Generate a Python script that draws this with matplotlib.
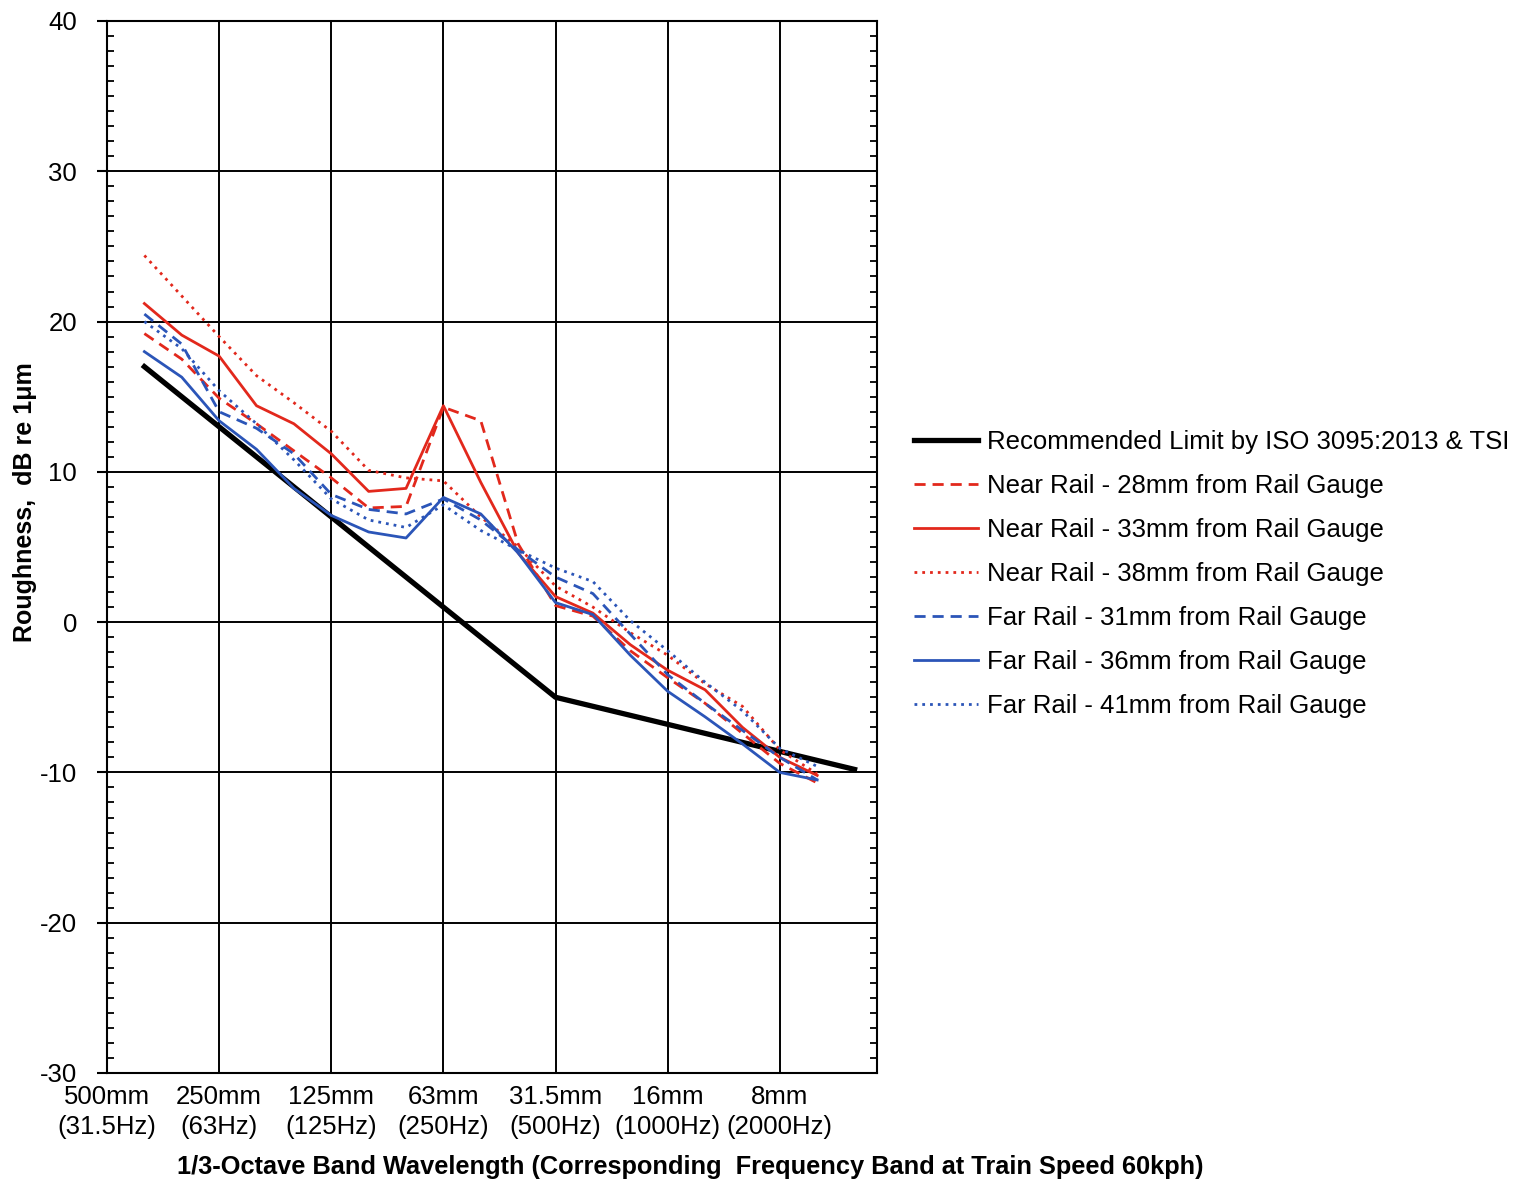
import matplotlib
matplotlib.use("Agg")
import matplotlib.pyplot as plt
from matplotlib.ticker import MultipleLocator

plt.rcParams["font.family"] = ["Liberation Sans", "DejaVu Sans"]
plt.rcParams["axes.unicode_minus"] = False

# 1/3-octave band index (0 = 500mm band)
bands = list(range(1, 20))
limit_bands = list(range(1, 21))

iso_limit = [17.0, 15.0, 13.0, 11.0, 9.0, 7.0, 5.0, 3.0, 1.0, -1.0,
             -3.0, -5.0, -5.6, -6.2, -6.8, -7.4, -8.0, -8.6, -9.2, -9.8]

near_28 = [19.2, 17.5, 14.9, 13.2, 11.4, 9.6, 7.6, 7.7, 14.3, 13.4,
           5.2, 1.1, 0.4, -1.9, -3.7, -5.4, -7.4, -9.4, -10.7]
near_33 = [21.2, 19.1, 17.7, 14.4, 13.2, 11.2, 8.7, 8.9, 14.4, 9.3,
           4.6, 1.7, 0.6, -1.5, -3.2, -4.5, -7.0, -9.0, -10.2]
near_38 = [24.4, 21.7, 19.0, 16.4, 14.6, 12.7, 10.1, 9.6, 9.4, 7.0,
           5.0, 2.4, 1.0, -0.7, -2.2, -4.1, -5.6, -8.5, -10.1]
far_31 = [20.5, 18.5, 14.0, 12.9, 11.2, 8.5, 7.5, 7.2, 8.2, 6.8,
          4.8, 3.0, 1.9, -0.8, -3.5, -5.4, -7.2, -9.0, -10.5]
far_36 = [18.0, 16.3, 13.4, 11.5, 8.9, 7.1, 6.0, 5.6, 8.3, 7.2,
          4.6, 1.3, 0.5, -2.2, -4.6, -6.3, -8.1, -10.0, -10.5]
far_41 = [20.0, 18.2, 15.4, 13.2, 10.8, 8.2, 6.8, 6.3, 7.8, 6.1,
          4.8, 3.6, 2.7, 0.1, -1.9, -4.0, -5.9, -8.4, -9.6]

tick_pos = [0, 3, 6, 9, 12, 15, 18]
tick_labels = ["500mm\n(31.5Hz)", "250mm\n(63Hz)", "125mm\n(125Hz)",
               "63mm\n(250Hz)", "31.5mm\n(500Hz)", "16mm\n(1000Hz)",
               "8mm\n(2000Hz)"]

RED = "#E2281C"
BLUE = "#2B55B8"
FS = 18.5

fig = plt.figure(figsize=(15.13, 11.82), dpi=100)
ax = fig.add_axes([107 / 1513, 109 / 1182, 770 / 1513, 1052 / 1182])

ax.plot(limit_bands, iso_limit, color="black", lw=3.8,
        label="Recommended Limit by ISO 3095:2013 & TSI", zorder=3)
ax.plot(bands, near_28, color=RED, lw=2.0, ls=(0, (4, 2.5)),
        label="Near Rail - 28mm from Rail Gauge", zorder=4)
ax.plot(bands, near_33, color=RED, lw=2.0, ls="-",
        label="Near Rail - 33mm from Rail Gauge", zorder=4)
ax.plot(bands, near_38, color=RED, lw=2.0, ls=(0, (1, 1.8)),
        label="Near Rail - 38mm from Rail Gauge", zorder=4)
ax.plot(bands, far_31, color=BLUE, lw=2.0, ls=(0, (4, 2.5)),
        label="Far Rail - 31mm from Rail Gauge", zorder=4)
ax.plot(bands, far_36, color=BLUE, lw=2.0, ls="-",
        label="Far Rail - 36mm from Rail Gauge", zorder=4)
ax.plot(bands, far_41, color=BLUE, lw=2.0, ls=(0, (1, 1.8)),
        label="Far Rail - 41mm from Rail Gauge", zorder=4)

ax.set_xlim(0, 20.6)
ax.set_ylim(-30, 40)
ax.set_xticks(tick_pos)
ax.set_xticklabels(tick_labels, fontsize=FS, linespacing=1.3)
ax.yaxis.set_major_locator(MultipleLocator(10))
ax.yaxis.set_minor_locator(MultipleLocator(1))
ax.tick_params(axis="y", which="major", direction="out", length=7.5,
               width=1.5, labelsize=FS, pad=14)
ax.tick_params(axis="y", which="minor", direction="in", length=5,
               width=1.3, left=True, right=True)
ax.tick_params(axis="x", which="major", length=0, pad=9)
ax.grid(True, which="major", color="black", lw=1.4)
for s in ax.spines.values():
    s.set_linewidth(1.5)

fig.text(25 / 1513, 1 - 502 / 1182, "Roughness,  dB re 1\u03bcm", rotation=90,
         fontsize=18, fontweight="bold", ha="center", va="center")
fig.text(690 / 1513, 1 - 1167 / 1182,
         "1/3-Octave Band Wavelength (Corresponding  Frequency Band at Train Speed 60kph)",
         fontsize=18.3, fontweight="bold", ha="center", va="center")

fig.legend(loc="upper left", bbox_to_anchor=(891 / 1513, 1 - 407 / 1182),
           frameon=False, fontsize=FS, handlelength=2.5, handletextpad=0.35,
           labelspacing=0.78)

fig.savefig("out.png", dpi=100)
